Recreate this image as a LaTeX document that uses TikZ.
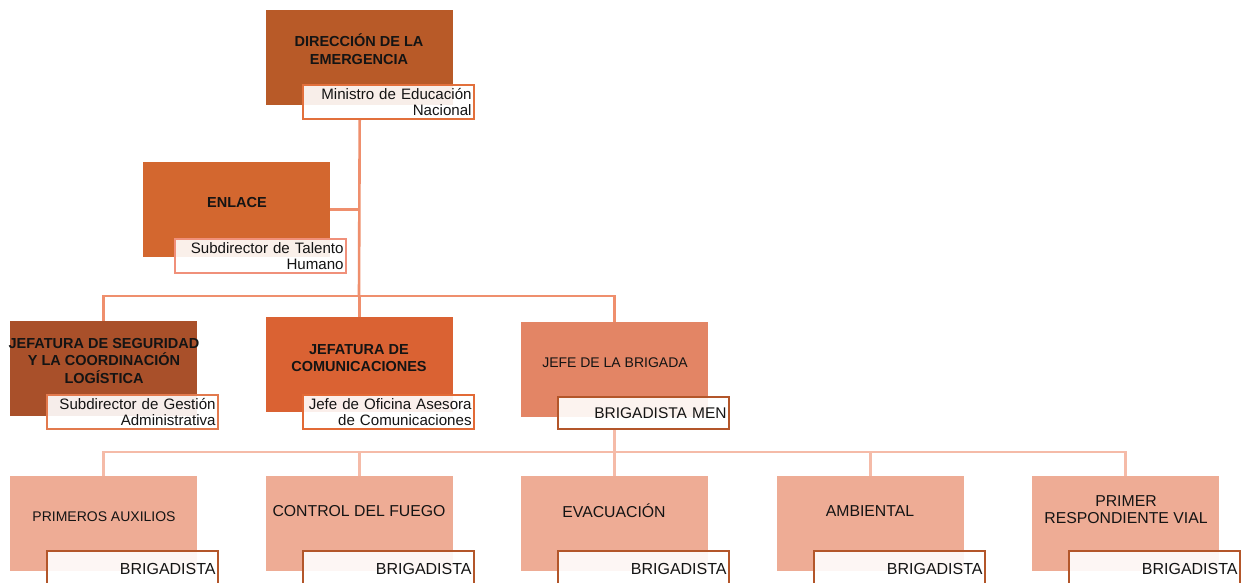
\documentclass[tikz,border=0pt]{standalone}
\usepackage{fontspec}
\setmainfont{Liberation Sans}
\definecolor{cDir}{HTML}{B85A28}
\definecolor{cEnl}{HTML}{D3672F}
\definecolor{cSeg}{HTML}{A9502A}
\definecolor{cCom}{HTML}{DA6233}
\definecolor{cJef}{HTML}{E38565}
\definecolor{cBot}{HTML}{EEAC95}
\definecolor{lTop}{HTML}{EF8F6D}
\definecolor{lBot}{HTML}{F5BBA8}
\definecolor{bDir}{HTML}{E2703C}
\definecolor{bEnl}{HTML}{F0907A}
\definecolor{bSeg}{HTML}{E27A4E}
\definecolor{bCom}{HTML}{E26A36}
\definecolor{bDark}{HTML}{B3562A}
\definecolor{txt}{HTML}{141414}
\begin{document}
\begin{tikzpicture}[x=1pt,y=-1pt,
  box/.style={rectangle, minimum width=187pt, minimum height=95pt, inner sep=0pt, anchor=north west},
  lab/.style={rectangle, draw, line width=2.2pt, fill=white, fill opacity=0.9, text opacity=1,
    minimum width=171pt, minimum height=34pt, anchor=north west, align=right, text width=166pt,
    inner sep=2pt, text=txt, font=\fontsize{15.1}{15.5}\selectfont},
  blab/.style={lab, draw=bDark, minimum height=36pt, font=\fontsize{16}{17}\selectfont},
  head/.style={align=center, text=txt, font=\bfseries\fontsize{14.5}{17.5}\selectfont},
  sub/.style={align=center, text=txt, font=\fontsize{14}{17}\selectfont},
  subl/.style={align=center, text=txt, font=\fontsize{15.8}{17}\selectfont},
  topline/.style={draw=lTop, line width=2.6pt},
  botline/.style={draw=lBot, line width=2.6pt}]
\clip (0,0) rectangle (1243,582);
\fill[white] (0,0) rectangle (1243,582);

% main boxes
\node[box, fill=cDir] (dir) at (266,10) {};
\node[box, fill=cEnl] (enl) at (143,162) {};
\node[box, fill=cSeg] (seg) at (10,321) {};
\node[box, fill=cCom] (com) at (266,317) {};
\node[box, fill=cJef] (jef) at (521,322) {};
\node[box, fill=cBot] (b1) at (10,476) {};
\node[box, fill=cBot] (b2) at (266,476) {};
\node[box, fill=cBot] (b3) at (521,476) {};
\node[box, fill=cBot] (b4) at (777,476) {};
\node[box, fill=cBot] (b5) at (1032,476) {};

% titles
\node[head] (tdir) at (359,49) {DIRECCIÓN DE LA\\EMERGENCIA};
\node[head] (tenl) at (237,203) {ENLACE};
\node[head] (tseg) at (104,361) {JEFATURA DE SEGURIDAD\\Y LA COORDINACIÓN\\LOGÍSTICA};
\node[head] (tcom) at (359,358) {JEFATURA DE\\COMUNICACIONES};
\node[sub] (tjef) at (615,363) {JEFE DE LA BRIGADA};
\node[sub] (tb1) at (104,517) {PRIMEROS AUXILIOS};
\node[subl] (tb2) at (359,511) {CONTROL DEL FUEGO};
\node[subl] (tb3) at (614,511) {EVACUACIÓN};
\node[subl] (tb4) at (870,511) {AMBIENTAL};
\node[subl] (tb5) at (1126,510) {PRIMER\\RESPONDIENTE VIAL};

% labels
\node[lab, draw=bDir] (dirl) at (302,84) {\mbox{Ministro de Educación}\\\mbox{Nacional}};
\node[lab, draw=bEnl] (enll) at (174,238) {\mbox{Subdirector de Talento}\\\mbox{Humano}};
\node[lab, draw=bSeg] (segl) at (46,394) {\mbox{Subdirector de Gestión}\\\mbox{Administrativa}};
\node[lab, draw=bCom] (coml) at (302,394) {\mbox{Jefe de Oficina Asesora}\\\mbox{de Comunicaciones}};
\node[lab, draw=bDark, minimum height=32pt, font=\fontsize{15.5}{17}\selectfont] (jefl) at (557,396) {BRIGADISTA MEN};
\node[blab] (l1) at (46,550) {BRIGADISTA};
\node[blab] (l2) at (302,550) {BRIGADISTA};
\node[blab] (l3) at (557,550) {BRIGADISTA};
\node[blab] (l4) at (813,550) {BRIGADISTA};
\node[blab] (l5) at (1068,550) {BRIGADISTA};

% connectors (top)
\coordinate (busT) at (359,296);
\draw[topline] (dir.center |- dirl.south) -- (busT);
\draw[topline] (enl.east) -- (enl.east -| busT);
\draw[topline] (seg.north) |- (busT) -| (jef.north);
\draw[topline] (com.north) -- (com.north |- busT);

% connectors (bottom)
\coordinate (busB) at (615,452);
\draw[botline] (jef.center |- jefl.south) -- (jef.center |- busB);
\draw[botline] (b1.north) |- (b5.north |- busB) -- (b5.north);
\draw[botline] (b2.north) -- (b2.north |- busB);
\draw[botline] (b3.north) -- (b3.north |- busB);
\draw[botline] (b4.north) -- (b4.north |- busB);
\end{tikzpicture}
\end{document}
